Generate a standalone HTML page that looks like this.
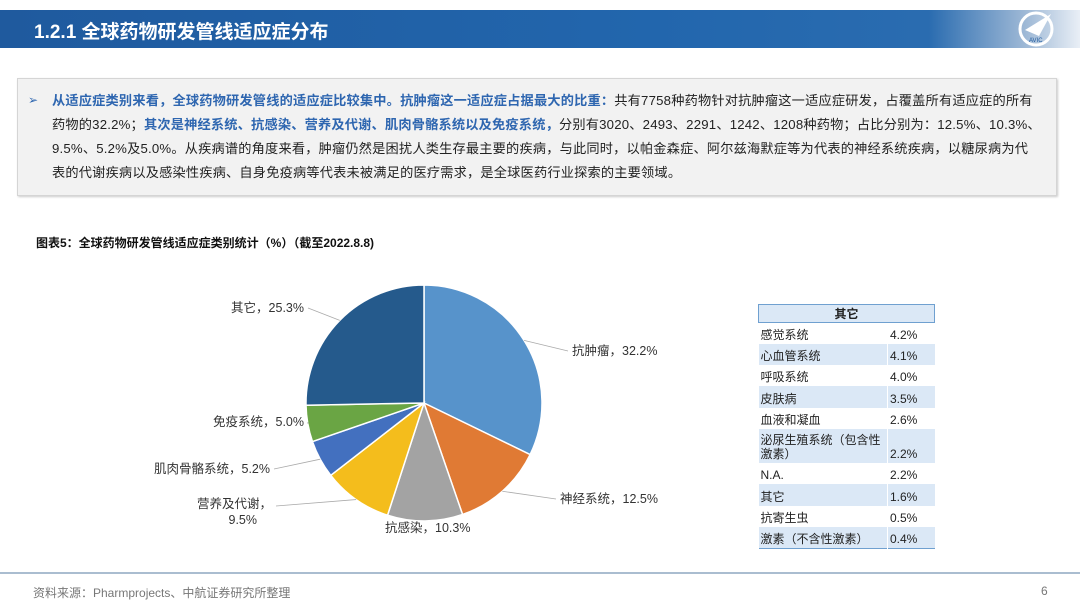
<!DOCTYPE html>
<html><head><meta charset="utf-8">
<style>
*{margin:0;padding:0;box-sizing:border-box}
body{width:1080px;height:607px;background:#fff;position:relative;overflow:hidden;font-family:"Liberation Sans","Noto Sans CJK SC",sans-serif;color:#222}
.abs{position:absolute}
#hdr{left:0;top:10px;width:1080px;height:38px;background:linear-gradient(90deg,#1f5a9e 0%,#2266ad 60%,#2a6cb0 86%,#9fb9d6 95%,#e9eff6 100%)}
#hdr h1{position:absolute;left:34px;top:7px;font-size:19px;color:#fff;font-weight:bold}
#box{left:17px;top:78px;width:1040px;height:118px;background:#f2f2f2;border:1px solid #d5d5d5;box-shadow:1px 1px 2px #ccc}
#box p{position:absolute;left:34px;top:10px;width:1004px;font-size:13.2px;line-height:24px;color:#222;letter-spacing:0.2px;white-space:nowrap}
.b{color:#2e66b0;font-weight:bold}
#arrow{left:10px;top:14px;font-size:12px;color:#2e66b0}
#ctitle{left:36px;top:234px;font-size:12px;font-weight:bold;color:#111}
table{position:absolute;left:758px;top:304px;width:177px;border-collapse:collapse;font-size:12px;color:#222;border-bottom:1.5px solid #6fa0d0}
td{height:21.3px;padding:0 2px;line-height:14px;vertical-align:bottom;padding-bottom:2px}
td.v{width:47px;border-left:1px solid #fff}
tr.a td{background:#dbe8f6}
th{background:#dbe8f6;border:1px solid #6fa0d0;height:17px;font-size:12px}
#fline{left:0;top:572px;width:1080px;height:2px;background:#aabdd0}
#src{left:33px;top:584px;font-size:12px;color:#777}
#pg{left:1041px;top:584px;font-size:12px;color:#777}
</style></head><body>
<div id="hdr" class="abs"><h1>1.2.1 全球药物研发管线适应症分布</h1>
<svg class="abs" style="left:1017px;top:0px" width="40" height="40" viewBox="0 0 40 40"><circle cx="19" cy="19" r="16" fill="none" stroke="#fff" stroke-width="3"/><path d="M8 20 L34 4 L22 26 Z" fill="#fff"/><text x="12" y="32" font-size="6" fill="#1f5a9e" font-family="Liberation Sans">AVIC</text></svg>
</div>
<div id="box" class="abs">
<div id="arrow" class="abs">➢</div>
<p><span class="b">从适应症类别来看，全球药物研发管线的适应症比较集中。抗肿瘤这一适应症占据最大的比重：</span>共有7758种药物针对抗肿瘤这一适应症研发，占覆盖所有适应症的所有<br>药物的32.2%；<span class="b">其次是神经系统、抗感染、营养及代谢、肌肉骨骼系统以及免疫系统，</span>分别有3020、2493、2291、1242、1208种药物；占比分别为：12.5%、10.3%、<br>9.5%、5.2%及5.0%。从疾病谱的角度来看，肿瘤仍然是困扰人类生存最主要的疾病，与此同时，以帕金森症、阿尔兹海默症等为代表的神经系统疾病，以糖尿病为代<br>表的代谢疾病以及感染性疾病、自身免疫病等代表未被满足的医疗需求，是全球医药行业探索的主要领域。</p>
</div>
<div id="ctitle" class="abs">图表5：全球药物研发管线适应症类别统计（%）（截至2022.8.8)</div>
<svg id="pie" class="abs" style="left:0;top:260px" width="740" height="300"></svg>
<table>
<tr><th colspan="2">其它</th></tr>
<tr><td>感觉系统</td><td class="v">4.2%</td></tr>
<tr class="a"><td>心血管系统</td><td class="v">4.1%</td></tr>
<tr><td>呼吸系统</td><td class="v">4.0%</td></tr>
<tr class="a"><td>皮肤病</td><td class="v">3.5%</td></tr>
<tr><td>血液和凝血</td><td class="v">2.6%</td></tr>
<tr class="a"><td style="height:34px">泌尿生殖系统（包含性激素）</td><td class="v">2.2%</td></tr>
<tr><td>N.A.</td><td class="v">2.2%</td></tr>
<tr class="a"><td>其它</td><td class="v">1.6%</td></tr>
<tr><td>抗寄生虫</td><td class="v">0.5%</td></tr>
<tr class="a"><td>激素（不含性激素）</td><td class="v">0.4%</td></tr>
</table>
<div id="fline" class="abs"></div>
<div id="src" class="abs">资料来源：Pharmprojects、中航证券研究所整理</div>
<div id="pg" class="abs">6</div>
<script>
const categories=["抗肿瘤","神经系统","抗感染","营养及代谢","肌肉骨骼系统","免疫系统","其它"];
const values=[32.2,12.5,10.3,9.5,5.2,5.0,25.3];
const colors=["#5793cb","#e07a34","#a3a3a3","#f4bd1c","#4370bf","#6aa544","#255a8c"];
const labelPos=[[572,355,"start"],[560,503,"start"],[385,532,"start"],[272,510,"end"],[270,473,"end"],[304,426,"end"],[304,312,"end"]];
const svg=document.getElementById('pie');const NS="http://www.w3.org/2000/svg";
const cx=424,cy=143,r=118,oy=260;
const total=values.reduce((a,b)=>a+b,0);
let a0=0;
function pt(a,rr){return [cx+rr*Math.sin(a),cy-rr*Math.cos(a)];}
values.forEach((v,i)=>{
 const a1=a0+v/total*2*Math.PI;
 const p0=pt(a0,r),p1=pt(a1,r);
 const path=document.createElementNS(NS,'path');
 path.setAttribute('d',`M${cx},${cy} L${p0[0]},${p0[1]} A${r},${r} 0 ${a1-a0>Math.PI?1:0} 1 ${p1[0]},${p1[1]} Z`);
 path.setAttribute('fill',colors[i]);path.setAttribute('stroke','#fff');path.setAttribute('stroke-width','1.5');
 
 
 svg.appendChild(path);
 const am=(a0+a1)/2;const pe=pt(am,r);
 const lp=labelPos[i];
 const lx=lp[2]=="start"?lp[0]-4:lp[0]+4, ly=lp[1]-oy-4;
 const ln=document.createElementNS(NS,'polyline');
 ln.setAttribute('points',`${pe[0]},${pe[1]} ${lx},${ly}`);
 ln.setAttribute('fill','none');ln.setAttribute('stroke','#aaa');ln.setAttribute('stroke-width','0.8');
 
 
 if(i!==2)svg.appendChild(ln);
 const t=document.createElementNS(NS,'text');
 t.setAttribute('x',lp[0]);t.setAttribute('y',lp[1]-oy);t.setAttribute('text-anchor',lp[2]);
 t.setAttribute('font-size','12.5');t.setAttribute('fill','#333');
 t.setAttribute('font-family','"Liberation Sans","Noto Sans CJK SC",sans-serif');
 
 
 if(i===3){t.innerHTML=`<tspan x="${lp[0]}">${categories[i]}，</tspan><tspan x="${lp[0]-15}" dy="16">${values[i].toFixed(1)}%</tspan>`;t.setAttribute('y',lp[1]-oy-2);}
 else t.textContent=categories[i]+"，"+values[i].toFixed(1)+"%";
 svg.appendChild(t);
 a0=a1;
});
</script>
</body></html>
